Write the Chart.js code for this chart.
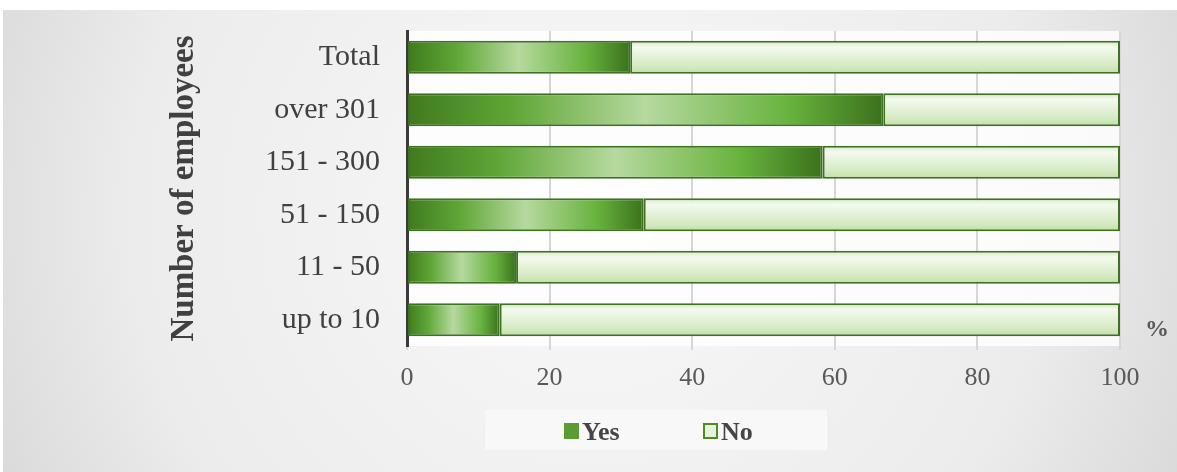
<!DOCTYPE html>
<html><head><meta charset="utf-8">
<script src="https://cdn.jsdelivr.net/npm/chart.js@4.4.1/dist/chart.umd.min.js"></script>
<style>html,body{margin:0;padding:0;background:#fff;}#wrap{width:1177px;height:472px;position:relative;}</style>
</head><body><div id="wrap"><canvas id="c" width="1177" height="472"></canvas></div>
<script>
const categories = ['Total', 'over 301', '151 - 300', '51 - 150', '11 - 50', 'up to 10'];
const yesValues = [31.3, 66.8, 58.3, 33.2, 15.3, 13.0];
const noValues = [68.7, 33.2, 41.7, 66.8, 84.7, 87.0];
const seriesNames = ['Yes', 'No'];
const xTicks = [0, 20, 40, 60, 80, 100];
const axisTitle = 'Number of employees';
const unitLabel = '%';

const SERIF = "'Liberation Serif', 'DejaVu Serif', serif";

function yesFill(ctx) {
  const c = ctx.chart, xs = c.scales && c.scales.x;
  if (!xs || ctx.type !== 'data') return '#5f9f36';
  const x0 = xs.getPixelForValue(0), x1 = xs.getPixelForValue(yesValues[ctx.dataIndex]);
  if (!isFinite(x0) || !isFinite(x1) || x1 - x0 < 1) return '#5f9f36';
  const g = c.ctx.createLinearGradient(x0, 0, x1, 0);
  g.addColorStop(0, '#3f7a1e');
  g.addColorStop(0.22, '#5fa636');
  g.addColorStop(0.5, '#b6d99f');
  g.addColorStop(0.8, '#68b33e');
  g.addColorStop(1, '#3a711c');
  return g;
}
function noFill(ctx) {
  const c = ctx.chart, ys = c.scales && c.scales.y;
  if (!ys || ctx.type !== 'data') return '#e3f0d6';
  const yc = ys.getPixelForValue(ctx.dataIndex);
  if (!isFinite(yc)) return '#e3f0d6';
  const g = c.ctx.createLinearGradient(0, yc - 17, 0, yc + 17);
  g.addColorStop(0, '#d2e7bf');
  g.addColorStop(0.2, '#f4faef');
  g.addColorStop(0.75, '#d5eac3');
  g.addColorStop(1, '#c0dfa5');
  return g;
}

const bgPlugin = {
  id: 'bg',
  beforeDraw(chart) {
    const ctx = chart.ctx, W = chart.width, H = chart.height;
    ctx.save();
    ctx.fillStyle = '#ffffff';
    ctx.fillRect(0, 0, W, H);
    const g = ctx.createRadialGradient(W * 0.5, H * 0.45, 50, W * 0.5, H * 0.45, W * 0.62);
    g.addColorStop(0, '#f7f7f7');
    g.addColorStop(0.6, '#ececec');
    g.addColorStop(1, '#d2d2d2');
    ctx.fillStyle = g;
    ctx.fillRect(3, 10, W - 3, H - 10);
    const a = chart.chartArea;
    ctx.fillStyle = 'rgba(255,255,255,0.8)';
    ctx.fillRect(a.left, a.top, a.right - a.left, a.bottom - a.top);
    ctx.fillStyle = 'rgba(248,248,248,0.9)';
    ctx.fillRect(485, 410, 342, 40);
    ctx.restore();
  },
  afterDraw(chart) {
    const ctx = chart.ctx;
    ctx.save();
    const ds = chart.data.datasets;
    const items = [{x: 564, label: ds[0].label, fill: '#5a9c31', stroke: '#5a9c31'},
                   {x: 703, label: ds[1].label, fill: '#e6f2da', stroke: '#4d8a2a'}];
    ctx.font = 'bold 26px ' + SERIF;
    ctx.textBaseline = 'middle';
    ctx.textAlign = 'left';
    items.forEach(it => {
      ctx.fillStyle = it.fill;
      ctx.fillRect(it.x, 423, 15, 16);
      ctx.lineWidth = 2;
      ctx.strokeStyle = it.stroke;
      ctx.strokeRect(it.x + 1, 424, 13, 14);
      ctx.fillStyle = '#454545';
      ctx.fillText(it.label, it.x + 18, 433);
    });
    ctx.font = 'bold 24px ' + SERIF;
    ctx.fillStyle = '#595959';
    ctx.fillText(unitLabel, 1145, 330);
    ctx.restore();
  }
};

new Chart(document.getElementById('c'), {
  type: 'bar',
  data: {
    labels: categories,
    datasets: [
      {label: seriesNames[0], data: yesValues, backgroundColor: yesFill, borderColor: '#3e7121', borderWidth: 2, borderSkipped: false, barPercentage: 0.63, categoryPercentage: 1},
      {label: seriesNames[1], data: noValues, backgroundColor: noFill, borderColor: '#3e7121', borderWidth: 2, borderSkipped: false, barPercentage: 0.63, categoryPercentage: 1}
    ]
  },
  options: {
    indexAxis: 'y',
    responsive: false,
    animation: false,
    events: [],
    layout: {padding: {left: 165, right: 57, top: 31, bottom: 0}},
    plugins: {legend: {display: false}, tooltip: {enabled: false}},
    scales: {
      x: {
        stacked: true, min: 0, max: 100,
        afterBuildTicks(s) { s.ticks = xTicks.map(v => ({value: v})); },
        afterFit(s) { s.height = 126; s.paddingLeft = 0; s.paddingRight = 0; },
        grid: {color: '#d6d6d6', lineWidth: 2, drawTicks: true, tickLength: 4},
        border: {display: false},
        ticks: {font: {family: SERIF, size: 26}, color: '#595959', padding: 13}
      },
      y: {
        stacked: true,
        afterFit(s) { s.width = 407 - 165; s.paddingTop = 0; s.paddingBottom = 0; },
        grid: {display: false, drawTicks: false},
        border: {display: true, color: '#3a3a3a', width: 3},
        ticks: {font: {family: SERIF, size: 30}, color: '#404040', padding: 27},
        title: {display: true, text: axisTitle, font: {family: SERIF, size: 33, weight: 'bold'}, color: '#404040', padding: 0}
      }
    }
  },
  plugins: [bgPlugin]
});
</script></body></html>
